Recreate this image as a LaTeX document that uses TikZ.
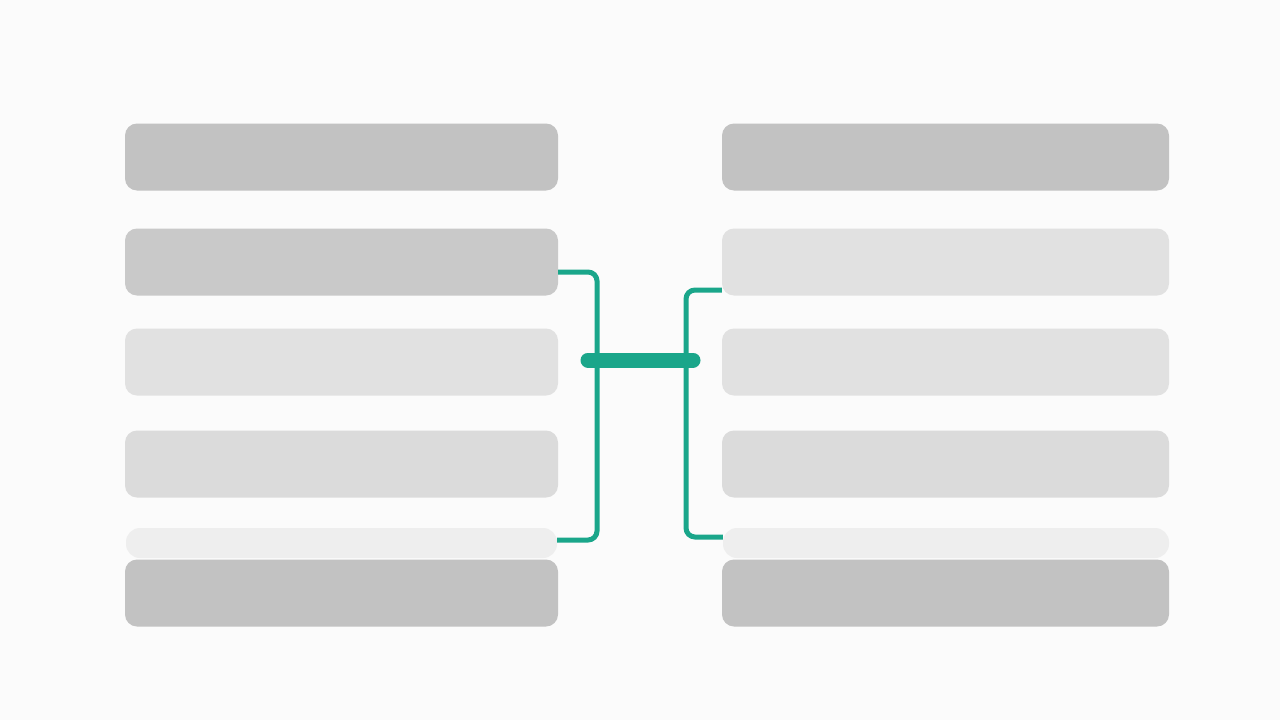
\documentclass[tikz,border=0pt]{standalone}
\definecolor{bgc}{HTML}{FBFBFB}
\definecolor{gdark}{HTML}{C2C2C2}
\definecolor{gmid}{HTML}{C9C9C9}
\definecolor{glight}{HTML}{E1E1E1}
\definecolor{glm}{HTML}{DBDBDB}
\definecolor{gpale}{HTML}{EEEEEE}
\definecolor{teal}{HTML}{1AA68A}
\tikzset{
  barbox/.style={rectangle, rounded corners=12pt, draw=none, inner sep=0pt},
  lbar/.style={barbox, minimum width=433pt, minimum height=67pt},
  rbar/.style={barbox, minimum width=447pt, minimum height=67pt},
  thinl/.style={barbox, rounded corners=14pt, minimum width=431pt, minimum height=30pt},
  thinr/.style={barbox, rounded corners=14pt, minimum width=446pt, minimum height=30pt},
  conn/.style={draw=teal, line width=5pt, rounded corners=9pt},
  hbar/.style={draw=teal, line width=15pt, line cap=round}
}
\begin{document}
\begin{tikzpicture}[x=1pt,y=-1pt]
\fill[bgc] (0,0) rectangle (1280,720);
\useasboundingbox (0,0) rectangle (1280,720);
% left column
\node[lbar, fill=gdark]  (L1) at (341.5,157) {};
\node[lbar, fill=gmid]   (L2) at (341.5,262) {};
\node[lbar, fill=glight] (L3) at (341.5,362) {};
\node[lbar, fill=glm]    (L4) at (341.5,464) {};
\node[thinl, fill=gpale] (L5) at (341.5,543) {};
\node[lbar, fill=gdark]  (L6) at (341.5,593) {};
% right column
\node[rbar, fill=gdark]  (R1) at (945.5,157) {};
\node[rbar, fill=glight] (R2) at (945.5,262) {};
\node[rbar, fill=glight] (R3) at (945.5,362) {};
\node[rbar, fill=glm]    (R4) at (945.5,464) {};
\node[thinr, fill=gpale] (R5) at (946,543) {};
\node[rbar, fill=gdark]  (R6) at (945.5,593) {};
% connectors
\draw[conn] ([yshift=-10pt]L2.east) -- (597,272) -- (597,540) -- ([yshift=3pt]L5.east);
\draw[conn] ([yshift=-28pt]R2.west) -- (686,290) -- (686,537) -- ([yshift=6pt]R5.west);
\coordinate (hl) at (588,360);
\coordinate (hr) at (693,360);
\draw[hbar] (hl) -- (hr);
\end{tikzpicture}
\end{document}
